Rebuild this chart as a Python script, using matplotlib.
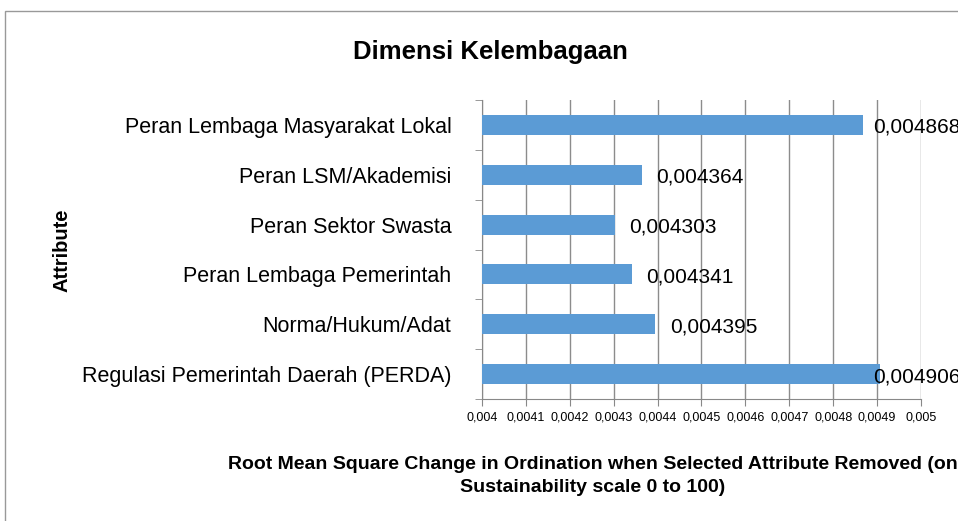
import matplotlib.pyplot as plt
from matplotlib.patches import Rectangle
import numpy as np

attributes = ['Regulasi Pemerintah Daerah (PERDA)', 'Norma/Hukum/Adat',
              'Peran Lembaga Pemerintah', 'Peran Sektor Swasta',
              'Peran LSM/Akademisi', 'Peran Lembaga Masyarakat Lokal']
rms = [0.004906, 0.004395, 0.004341, 0.004303, 0.004364, 0.004868]
xticks = [0.004, 0.0041, 0.0042, 0.0043, 0.0044, 0.0045, 0.0046, 0.0047, 0.0048, 0.0049, 0.005]

plt.rcParams['font.family'] = ['Liberation Sans', 'DejaVu Sans']

fig = plt.figure(figsize=(9.58, 5.21), dpi=100)
ax = fig.add_axes([482/958, 1-399/521, (921-482)/958, 299/521])

y = np.arange(len(attributes))
ax.barh(y, rms, height=0.4, color='#5B9BD5', zorder=3)
ax.set_xlim(0.004, 0.005)
ax.set_ylim(-0.5, len(attributes) - 0.5)

for yi, v in zip(y, rms):
    lx = min(v + 0.000033, 0.00489)
    ax.text(lx, yi - 0.05, ('%.6f' % v).replace('.', ','), va='center', ha='left',
            fontsize=15, clip_on=False)

ax.set_xticks(xticks)
ax.set_xticklabels([('%g' % t).replace('.', ',') for t in xticks], fontsize=9)
ax.set_yticks(y)
ax.set_yticklabels(attributes, fontsize=15.5)
ax.set_yticks(np.arange(-0.5, len(attributes)), minor=True)
ax.tick_params(axis='y', which='major', length=0, pad=22)
ax.tick_params(axis='y', which='minor', length=5, color='#888888')
ax.tick_params(axis='x', length=5, color='#888888', pad=4)
ax.grid(axis='x', color='#8c8c8c', linewidth=1, zorder=0)
for s in ['top', 'right']:
    ax.spines[s].set_visible(False)
ax.spines['left'].set_color('#888888')
ax.spines['bottom'].set_color('#888888')

fig.text(490/958, 1-52/521, 'Dimensi Kelembagaan', ha='center', va='center',
         fontsize=18.5, fontweight='bold')
fig.text(62/958, 1-250/521, 'Attribute', rotation=90, ha='center', va='center',
         fontsize=14.5, fontweight='bold')
fig.text(593/958, 1-476/521,
         'Root Mean Square Change in Ordination when Selected Attribute Removed (on\nSustainability scale 0 to 100)',
         ha='center', va='center', fontsize=14, fontweight='bold', linespacing=1.45)

fig.patches.append(Rectangle((5/958, -0.1), 1.2, 1-11/521+0.1, transform=fig.transFigure,
                             fill=False, edgecolor='#999999', linewidth=1))

fig.savefig('out.png', dpi=100)
